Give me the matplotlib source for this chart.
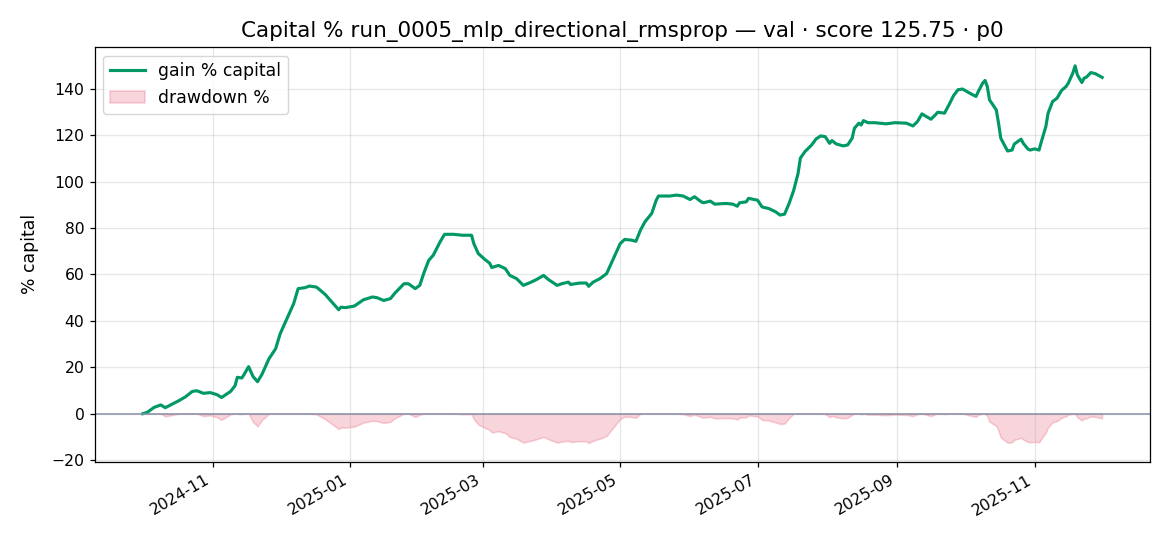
import matplotlib
matplotlib.use('Agg')
import matplotlib.dates as mdates
import matplotlib.pyplot as plt
import numpy as np
import pandas as pd

run_name = 'run_0005_mlp_directional_rmsprop'
split = 'val'
score = 125.75

dates = [
    '2024-10-01', '2024-10-03', '2024-10-06', '2024-10-09', '2024-10-11', '2024-10-17', '2024-10-20',
    '2024-10-23', '2024-10-25', '2024-10-28', '2024-10-31', '2024-11-03', '2024-11-05', '2024-11-09',
    '2024-11-11', '2024-11-12', '2024-11-14', '2024-11-15', '2024-11-17', '2024-11-19', '2024-11-21',
    '2024-11-23', '2024-11-26', '2024-11-29', '2024-12-01', '2024-12-04', '2024-12-07', '2024-12-09',
    '2024-12-12', '2024-12-14', '2024-12-17', '2024-12-18', '2024-12-21', '2024-12-24', '2024-12-27',
    '2024-12-28', '2024-12-30', '2025-01-03', '2025-01-07', '2025-01-11', '2025-01-13', '2025-01-16',
    '2025-01-19', '2025-01-21', '2025-01-25', '2025-01-27', '2025-01-30', '2025-02-01', '2025-02-03',
    '2025-02-05', '2025-02-07', '2025-02-10', '2025-02-12', '2025-02-16', '2025-02-20', '2025-02-24',
    '2025-02-25', '2025-02-27', '2025-03-02', '2025-03-04', '2025-03-05', '2025-03-08', '2025-03-11',
    '2025-03-13', '2025-03-16', '2025-03-19', '2025-03-22', '2025-03-25', '2025-03-28', '2025-03-30',
    '2025-04-03', '2025-04-05', '2025-04-08', '2025-04-09', '2025-04-13', '2025-04-16', '2025-04-17',
    '2025-04-19', '2025-04-22', '2025-04-25', '2025-04-27', '2025-04-29', '2025-05-01', '2025-05-03',
    '2025-05-06', '2025-05-08', '2025-05-10', '2025-05-12', '2025-05-15', '2025-05-17', '2025-05-18',
    '2025-05-23', '2025-05-26', '2025-05-29', '2025-06-01', '2025-06-03', '2025-06-06', '2025-06-07',
    '2025-06-10', '2025-06-12', '2025-06-17', '2025-06-20', '2025-06-22', '2025-06-23', '2025-06-26',
    '2025-06-27', '2025-07-01', '2025-07-03', '2025-07-06', '2025-07-09', '2025-07-11', '2025-07-13',
    '2025-07-15', '2025-07-17', '2025-07-19', '2025-07-20', '2025-07-22', '2025-07-25', '2025-07-27',
    '2025-07-29', '2025-07-31', '2025-08-02', '2025-08-03', '2025-08-05', '2025-08-08', '2025-08-10',
    '2025-08-12', '2025-08-13', '2025-08-15', '2025-08-16', '2025-08-17', '2025-08-19', '2025-08-22',
    '2025-08-27', '2025-08-31', '2025-09-05', '2025-09-08', '2025-09-10', '2025-09-12', '2025-09-14',
    '2025-09-16', '2025-09-18', '2025-09-19', '2025-09-22', '2025-09-24', '2025-09-26', '2025-09-28',
    '2025-09-30', '2025-10-02', '2025-10-04', '2025-10-06', '2025-10-07', '2025-10-09', '2025-10-10',
    '2025-10-11', '2025-10-12', '2025-10-15', '2025-10-16', '2025-10-17', '2025-10-19', '2025-10-20',
    '2025-10-22', '2025-10-23', '2025-10-26', '2025-10-27', '2025-10-29', '2025-10-30', '2025-11-01',
    '2025-11-03', '2025-11-04', '2025-11-06', '2025-11-07', '2025-11-09', '2025-11-11', '2025-11-13',
    '2025-11-15', '2025-11-16', '2025-11-18', '2025-11-19', '2025-11-20', '2025-11-22', '2025-11-23',
    '2025-11-24', '2025-11-26', '2025-11-28', '2025-12-01',
]

gain_pct = [
    0.0, 0.6, 2.7, 3.8, 2.6, 5.6, 7.3,
    9.6, 9.9, 8.8, 9.1, 8.2, 7.0, 9.6,
    12.1, 15.7, 15.4, 16.9, 20.3, 16.0, 13.8,
    17.1, 23.6, 28.0, 34.4, 40.9, 47.4, 53.9,
    54.3, 55.0, 54.6, 53.9, 51.4, 48.1, 44.8,
    45.9, 45.7, 46.4, 49.1, 50.3, 50.0, 48.8,
    49.6, 52.0, 56.0, 56.0, 53.9, 55.3, 61.1,
    66.1, 68.3, 74.0, 77.3, 77.3, 76.9, 76.9,
    73.3, 69.0, 66.4, 64.9, 63.0, 63.9, 62.5,
    59.6, 58.2, 55.3, 56.5, 57.9, 59.6, 57.9,
    55.3, 56.0, 56.7, 55.7, 56.3, 56.3, 54.9,
    56.7, 58.2, 60.4, 64.7, 69.0, 73.3, 75.1,
    74.8, 74.3, 79.1, 82.7, 86.3, 92.0, 93.8,
    93.8, 94.2, 93.8, 92.3, 93.5, 91.3, 90.9,
    91.6, 90.3, 90.6, 90.3, 89.4, 90.9, 91.3,
    92.8, 92.0, 89.1, 88.4, 87.0, 85.6, 86.0,
    90.6, 96.1, 103.6, 110.1, 112.9, 115.8, 118.4,
    119.7, 119.4, 116.5, 117.7, 116.2, 115.4, 115.8,
    118.7, 123.0, 125.2, 124.4, 126.3, 125.4, 125.4,
    124.9, 125.4, 125.2, 124.0, 125.9, 129.2, 128.0,
    126.9, 128.8, 129.9, 129.5, 133.1, 137.0, 139.6,
    139.9, 138.8, 137.7, 136.7, 138.8, 142.5, 143.6,
    141.0, 135.2, 130.9, 125.2, 118.7, 115.1, 113.2,
    113.6, 116.2, 118.3, 116.5, 114.1, 113.6, 114.1,
    113.6, 117.2, 123.7, 129.5, 134.5, 136.0, 139.3,
    141.0, 142.5, 146.8, 149.9, 146.0, 142.7, 144.6,
    145.0, 147.0, 146.5, 144.9,
]

# the source figure was rendered a bit larger than 100 dpi, so scale fonts/lines
k = 1.125
plt.rcParams.update({
    'axes.linewidth': 0.8 * k,
    'xtick.major.size': 3.5 * k,
    'ytick.major.size': 3.5 * k,
    'xtick.major.width': 0.8 * k,
    'ytick.major.width': 0.8 * k,
    'grid.linewidth': 0.8 * k,
})

df = pd.DataFrame({'date': pd.to_datetime(dates), 'gain': gain_pct})
equity = 1.0 + df['gain'].to_numpy() / 100.0
drawdown = (equity / np.maximum.accumulate(equity) - 1.0) * 100.0

fig, ax = plt.subplots(figsize=(11.7, 5.46), dpi=100)
ax.plot(df['date'], df['gain'], color='#009966', lw=2.0 * k, label='gain % capital')
ax.fill_between(df['date'], drawdown, 0, color='crimson', alpha=0.18, lw=1.0 * k, label='drawdown %')
ax.axhline(0, color='#8a93a8', lw=1.0 * k)
ax.set_ylabel('% capital', fontsize=11 * k, labelpad=9)
ax.set_title(f'Capital % {run_name} \u2014 {split} \u00b7 score {score:.2f} \u00b7 p0', fontsize=15.5, pad=7)
ax.grid(True, alpha=0.3)
ax.xaxis.set_major_locator(mdates.MonthLocator(bymonth=[1, 3, 5, 7, 9, 11]))
ax.xaxis.set_major_formatter(mdates.DateFormatter('%Y-%m'))
ax.tick_params(labelsize=10 * k)
ax.legend(loc='upper left', fontsize=11 * k)
fig.autofmt_xdate()
fig.subplots_adjust(left=0.081, right=0.983, top=0.914, bottom=0.154)
fig.savefig('out.png', dpi=100)
plt.close(fig)
